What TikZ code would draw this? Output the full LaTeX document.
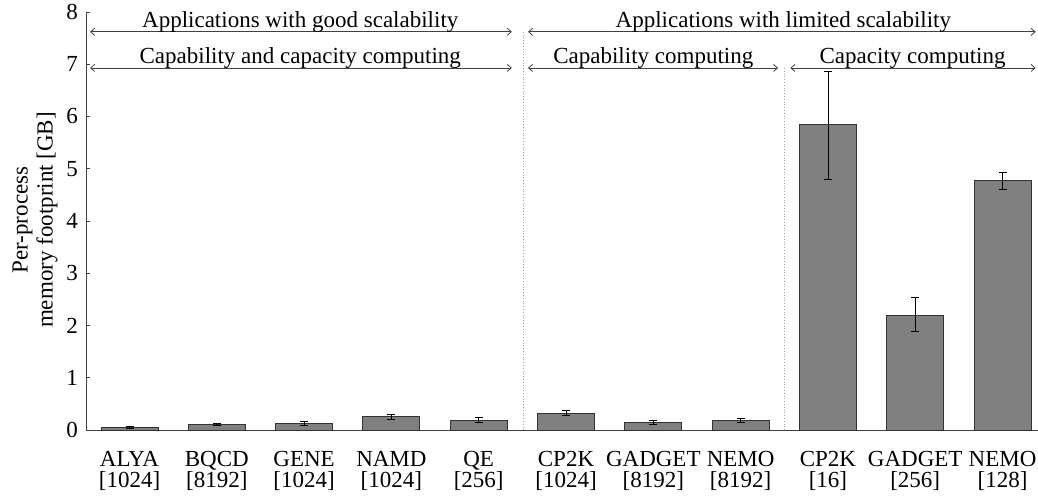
\documentclass[tikz,border=0pt]{standalone}
\usepackage{fontspec}
\setmainfont{Liberation Serif}
\usetikzlibrary{arrows.meta}
\definecolor{barfill}{HTML}{808080}
\definecolor{axisc}{HTML}{404040}
\begin{document}
\begin{tikzpicture}[x=1pt,y=1pt,
  font=\fontsize{23}{25}\selectfont,
  axisline/.style={draw=axisc, line width=0.9pt},
  barbox/.style={draw=black!80, fill=barfill, line width=0.9pt},
  errbar/.style={draw=black, line width=0.8pt},
  sepline/.style={draw=gray!70, dotted, line width=0.8pt},
  spanarrow/.style={draw=axisc, line width=0.8pt, {Straight Barb[length=4pt,width=7pt]}-{Straight Barb[length=4pt,width=7pt]}},
  ticklab/.style={anchor=east, inner sep=0pt},
  applab/.style={anchor=base, inner sep=0pt, align=center},
  grouplab/.style={anchor=base, inner sep=0pt}]
\useasboundingbox (0,0) rectangle (1038,498);
\node[rotate=90, align=center, inner sep=0pt] (ylab) at (35,278) {Per-process\\memory footprint [GB]};
\begin{scope}[shift={(129.5,68)}, x=87.3pt, y=52.25pt]
  % axes
  \draw[axisline] (-0.498,8) -- (-0.498,0) -- (10.41,0);
  \foreach \v in {0,...,8} {
    \draw[axisline] (-0.498,\v) -- ++(4pt,0);
    \node[ticklab] (t\v) at ([xshift=-8pt]-0.498,\v) {\v};
  }
  % separators
  \draw[sepline] (4.507,7.62) -- (4.507,0);
  \draw[sepline] (7.5,6.93) -- (7.5,0);
  % bars
  \foreach \i/\h/\lo/\hi/\nm/\np in {
    0/0.05/0.04/0.06/ALYA/1024,
    1/0.11/0.09/0.13/BQCD/8192,
    2/0.13/0.09/0.17/GENE/1024,
    3/0.25/0.21/0.29/NAMD/1024,
    4/0.19/0.14/0.24/QE/256,
    5/0.32/0.27/0.38/CP2K/1024,
    6/0.15/0.11/0.19/GADGET/8192,
    7/0.19/0.15/0.23/NEMO/8192,
    8/5.84/4.80/6.86/CP2K/16,
    9/2.20/1.88/2.53/GADGET/256,
    10/4.77/4.61/4.93/NEMO/128} {
    \draw[barbox] (\i-0.326,0) rectangle (\i+0.326,\h);
    \draw[errbar] (\i,\lo) -- (\i,\hi);
    \draw[errbar] ([xshift=-4pt]\i,\lo) -- ([xshift=4pt]\i,\lo);
    \draw[errbar] ([xshift=-4pt]\i,\hi) -- ([xshift=4pt]\i,\hi);
    \node[applab] (n\i) at (\i,-0.689) {\nm};
    \node[applab] (p\i) at (\i,-1.091) {[\np]};
  }
  % span arrows
  \coordinate (a1l) at (-0.452,7.62); \coordinate (a1r) at (4.38,7.62);
  \coordinate (a2l) at (4.565,7.62);  \coordinate (a2r) at (10.38,7.62);
  \coordinate (b1l) at (-0.452,6.93); \coordinate (b1r) at (4.38,6.93);
  \coordinate (b2l) at (4.565,6.93);  \coordinate (b2r) at (7.43,6.93);
  \coordinate (b3l) at (7.57,6.93);   \coordinate (b3r) at (10.38,6.93);
  \draw[spanarrow] (a1l) -- (a1r);
  \draw[spanarrow] (a2l) -- (a2r);
  \draw[spanarrow] (b1l) -- (b1r);
  \draw[spanarrow] (b2l) -- (b2r);
  \draw[spanarrow] (b3l) -- (b3r);
  \node[grouplab] (g1) at (1.956,7.71) {Applications with good scalability};
  \node[grouplab] (g2) at (7.49,7.71) {Applications with limited scalability};
  \node[grouplab] (g3) at (1.956,7.02) {Capability and capacity computing};
  \node[grouplab] (g4) at (6.0,7.02) {Capability computing};
  \node[grouplab] (g5) at (8.97,7.02) {Capacity computing};
\end{scope}
\end{tikzpicture}
\end{document}
